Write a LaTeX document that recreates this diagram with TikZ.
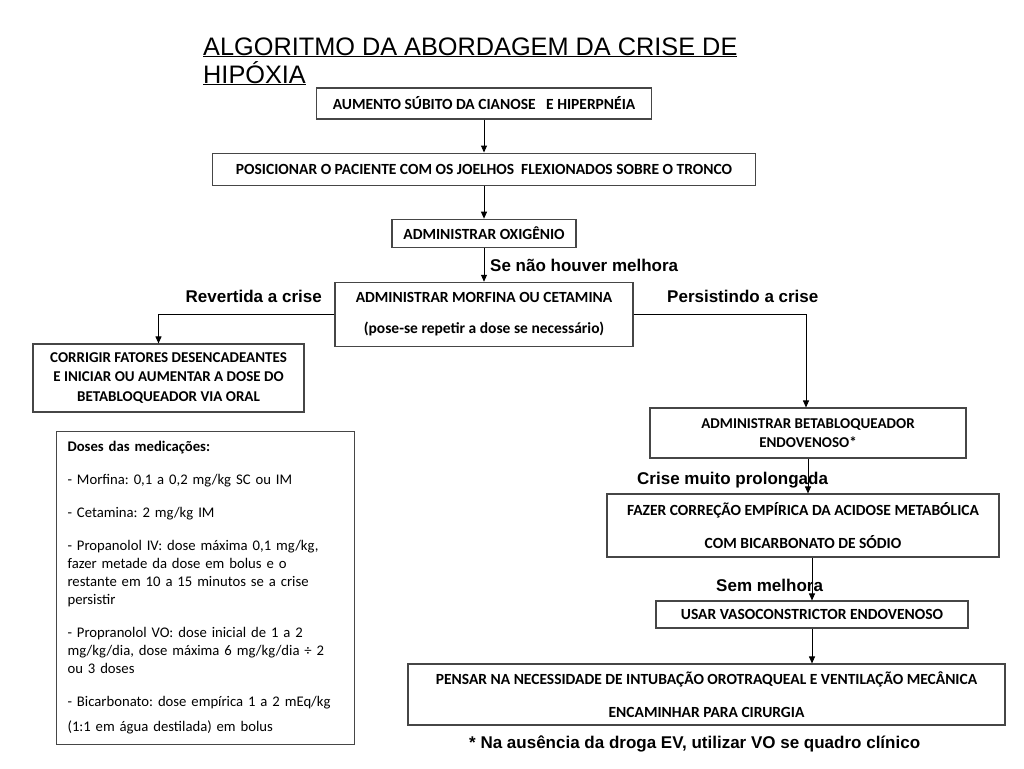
\documentclass[tikz,border=0pt]{standalone}
\usepackage{fontspec}
\setmainfont{Carlito}
\newfontfamily\arialfont{Liberation Sans}
\usetikzlibrary{arrows.meta,positioning}
\definecolor{boxline}{RGB}{70,70,70}
\frenchspacing

\begin{document}
\begin{tikzpicture}[
  x=1pt, y=-1pt,
  node distance=33pt and 20pt,
  box/.style={draw=boxline, line width=1.1pt, align=center, inner sep=3pt, font=\fontsize{15.5}{19.5}\selectfont\bfseries},
  smallbox/.style={box, font=\fontsize{15}{19.5}\selectfont\bfseries},
  arrow/.style={-{Triangle[length=7pt,width=6pt]}, line width=0.9pt},
  lbl/.style={font=\arialfont\fontsize{17}{20}\selectfont\bfseries, inner sep=0pt}
]
  \useasboundingbox (0,0) rectangle (1024,768);

  % titulo
  \node[anchor=base west, align=left, inner sep=0pt, font=\arialfont\fontsize{25.3}{28}\selectfont] (titulo) at (203,83)
    {\underline{ALGORITMO DA ABORDAGEM DA CRISE DE}\\\underline{HIPÓXIA}};

  % coluna central
  \node[box, minimum width=335pt, minimum height=31pt] (cianose) at (484,103.5) {AUMENTO SÚBITO DA CIANOSE\ \ \ E HIPERPNÉIA};
  \node[box, below=33pt of cianose, minimum width=543pt, minimum height=32pt] (posicao) {POSICIONAR O PACIENTE COM OS JOELHOS\ \ FLEXIONADOS SOBRE O TRONCO};
  \node[box, below=33pt of posicao, minimum width=184pt, minimum height=28pt] (oxigenio) {ADMINISTRAR OXIGÊNIO};
  \node[box, below=34pt of oxigenio, minimum width=298pt, minimum height=64pt] (morfina) {ADMINISTRAR MORFINA OU CETAMINA\\[12pt](pose-se repetir a dose se necessário)};

  % ramo esquerdo
  \node[smallbox, minimum width=271pt, minimum height=68pt] (corrigir) at (168.5,378) {CORRIGIR FATORES DESENCADEANTES\\E INICIAR OU AUMENTAR A DOSE DO\\BETABLOQUEADOR VIA ORAL};
  \node[draw=boxline, line width=1.1pt, anchor=north west, minimum width=298pt, minimum height=313pt, inner xsep=11pt,
        text width=276pt, align=left, font=\fontsize{14.7}{18}\selectfont] (doses) at (56,431)
    {{\bfseries Doses das medicações:}\\[15pt]
     - Morfina: 0,1 a 0,2 mg/kg SC ou IM\\[15pt]
     - Cetamina: 2 mg/kg IM\\[15pt]
     - Propanolol IV: dose máxima 0,1 mg/kg,\\fazer metade da dose em bolus e o\\restante em 10 a 15 minutos se a crise\\persistir\\[15pt]
     - Propranolol VO: dose inicial de 1 a 2\\mg/kg/dia, dose máxima 6 mg/kg/dia ÷ 2\\ou 3 doses\\[15pt]
     - Bicarbonato: dose empírica 1 a 2 mEq/kg\\[7pt]
     (1:1 em água destilada) em bolus};

  % ramo direito
  \node[smallbox, minimum width=316pt, minimum height=50pt] (betabloq) at (808,433) {ADMINISTRAR BETABLOQUEADOR\\ENDOVENOSO*};
  \node[box, minimum width=392pt, minimum height=63pt] (acidose) at (803,525.5) {FAZER CORREÇÃO EMPÍRICA DA ACIDOSE METABÓLICA\\[13pt]COM BICARBONATO DE SÓDIO};
  \node[box, minimum width=312pt, minimum height=27pt] (vaso) at (812,614.5) {USAR VASOCONSTRICTOR ENDOVENOSO};
  \node[box, minimum width=597pt, minimum height=61pt] (cirurgia) at (706.5,694.5) {PENSAR NA NECESSIDADE DE INTUBAÇÃO OROTRAQUEAL E VENTILAÇÃO MECÂNICA\\[14pt]ENCAMINHAR PARA CIRURGIA};

  % rotulos
  \node[lbl, anchor=west] (naomelhora) at (490,265) {Se não houver melhora};
  \node[lbl, anchor=east] (revertida) at (322,296) {Revertida a crise};
  \node[lbl, anchor=west] (persistindo) at (667,296) {Persistindo a crise};
  \node[lbl, anchor=west] (prolongada) at (637,480) {Crise muito prolongada};
  \node[lbl, anchor=west] (semmelhora) at (716,585) {Sem melhora};
  \node[lbl, anchor=west] (nota) at (469,744) {* Na ausência da droga EV, utilizar VO se quadro clínico};

  % setas
  \draw[arrow] (cianose) -- (posicao);
  \draw[arrow] (posicao) -- (oxigenio);
  \draw[arrow] (oxigenio) -- (morfina);
  \draw[arrow] (morfina.west) -| ([xshift=-10pt]corrigir.north);
  \draw[arrow] (morfina.east) -| ([xshift=-2pt]betabloq.north);
  \draw[arrow] (betabloq.south) -- (betabloq.south |- acidose.north);
  \draw[arrow] (acidose.south -| vaso.north) -- (vaso.north);
  \draw[arrow] (vaso.south) -- (vaso.south |- cirurgia.north);
\end{tikzpicture}
\end{document}
